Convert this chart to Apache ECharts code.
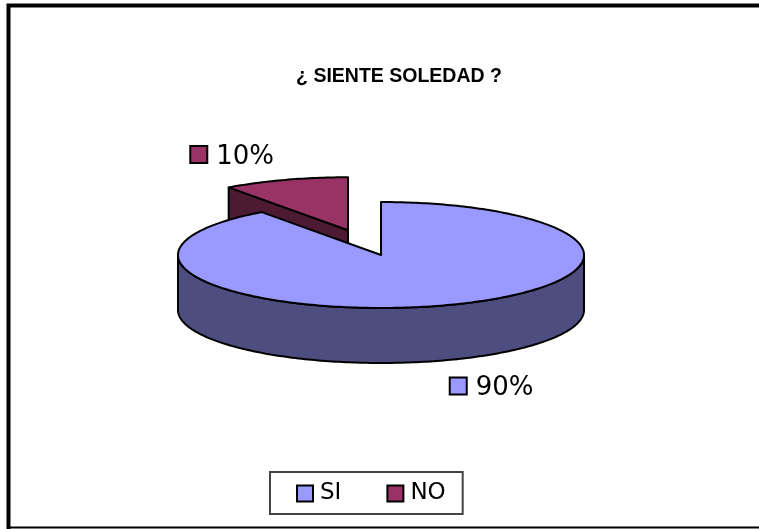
<!DOCTYPE html>
<html>
<head>
<meta charset="utf-8">
<style>html,body{margin:0;padding:0;background:#fff;overflow:hidden}#c{width:759px;height:529px}</style>
<script src="https://cdn.jsdelivr.net/npm/echarts@6/dist/echarts.min.js"></script>
</head>
<body>
<div id="c"></div>
<script>
const titleText = '¿ SIENTE SOLEDAD ?';
const categories = ['SI', 'NO'];
const values = [90, 10];

const FONT = '"DejaVu Sans", sans-serif';
const faceColors = ['#9999FF', '#993366'];
const sideColors = ['#4D4D80', '#4D1A33'];
const explode = [0, 0.51];
const labelOffset = [[6, 17], [-95, -33]];
const CX = 381, CY = 255, RX = 203, RY = 53, DEPTH = 55, STROKE = 2;

const total = values.reduce((a, b) => a + b, 0);
function rad(d) { return d * Math.PI / 180; }

function renderSlice(params, api) {
  const i = params.seriesIndex === 0 ? 1 : 0; // back slice is painted first
  const before = values.slice(0, i).reduce((a, b) => a + b, 0);
  const start = before / total * 360;
  const end = start + api.value(0) / total * 360;
  const mid = (start + end) / 2;
  const cx = CX + RX * explode[i] * Math.sin(rad(mid)) - (i ? 1 : 0);
  const cy = CY - RY * explode[i] * Math.cos(rad(mid)) + (i ? 1 : 0);
  const pt = (t, dz) => [cx + RX * Math.sin(rad(t)), cy - RY * Math.cos(rad(t)) + (dz || 0)];
  const arc = (a, b, dz) => {
    const out = [];
    const n = Math.max(2, Math.ceil(Math.abs(b - a)));
    for (let k = 0; k <= n; k++) out.push(pt(a + (b - a) * k / n, dz));
    return out;
  };
  const line = { stroke: '#000', lineWidth: STROKE, lineJoin: 'round' };
  const kids = [];

  [[start, -Math.sin(rad(start))], [end, Math.sin(rad(end))]].forEach(([t, facing]) => {
    if (facing > 0.001) {
      kids.push({ type: 'polygon',
        shape: { points: [[cx, cy], pt(t), pt(t, DEPTH), [cx, cy + DEPTH]] },
        style: Object.assign({ fill: sideColors[i] }, line) });
    }
  });
  const a = Math.max(start, 90), b = Math.min(end, 270);
  if (b > a) {
    kids.push({ type: 'polygon',
      shape: { points: arc(a, b, 0).concat(arc(b, a, DEPTH)) },
      style: Object.assign({ fill: sideColors[i] }, line) });
  }
  kids.push({ type: 'polygon',
    shape: { points: [[cx, cy]].concat(arc(start, end, 0)) },
    style: Object.assign({ fill: faceColors[i] }, line) });

  const anchor = pt(mid, Math.cos(rad(mid)) < 0 ? DEPTH : 0);
  const lx = anchor[0] + labelOffset[i][0], ly = anchor[1] + labelOffset[i][1] - (i ? 1 : 0);
  kids.push({ type: 'rect', shape: { x: lx, y: ly, width: 17, height: 17 },
    style: { fill: faceColors[i], stroke: '#000', lineWidth: 2 } });
  kids.push({ type: 'text', x: lx + 26, y: ly + 11,
    style: { text: Math.round(api.value(0) / total * 100) + '%', fill: '#000',
      font: '26px ' + FONT, textAlign: 'left', textVerticalAlign: 'middle' } });
  return { type: 'group', children: kids };
}

const order = [1, 0];
const chart = echarts.init(document.getElementById('c'), null, { renderer: 'canvas' });
chart.setOption({
  animation: false,
  backgroundColor: '#fff',
  title: {
    text: titleText, left: 394, top: 62, textAlign: 'center',
    textStyle: { fontFamily: '"Liberation Sans", Arial, sans-serif', fontSize: 19.5, fontWeight: 'bold', color: '#000' }
  },
  legend: {
    left: 270, top: 472, selectedMode: false,
    data: categories.map((name, i) => ({
      name, icon: 'rect',
      itemStyle: { color: faceColors[i], borderColor: '#000', borderWidth: 2 }
    })),
    orient: 'horizontal',
    padding: [10, 17, 9, 26],
    itemWidth: 16, itemHeight: 16, itemGap: 45,
    borderColor: '#444', borderWidth: 2,
    textStyle: { fontFamily: FONT, fontSize: 23, color: '#000', padding: [0, 0, 0, 2] }
  },
  graphic: [
    { type: 'polyline', silent: true, z: 100,
      shape: { points: [[8.5, 529], [8.5, 5.5], [759, 5.5]] },
      style: { stroke: '#000', lineWidth: 4, fill: null } },
    { type: 'line', silent: true, z: 100,
      shape: { x1: 8, y1: 527.5, x2: 759, y2: 527.5 },
      style: { stroke: '#000', lineWidth: 2 } }
  ],
  series: order.map(i => ({
    type: 'custom', name: categories[i], coordinateSystem: 'none',
    data: [[values[i]]], renderItem: renderSlice, silent: true,
    itemStyle: { color: faceColors[i] }
  }))
});
</script>
</body>
</html>
